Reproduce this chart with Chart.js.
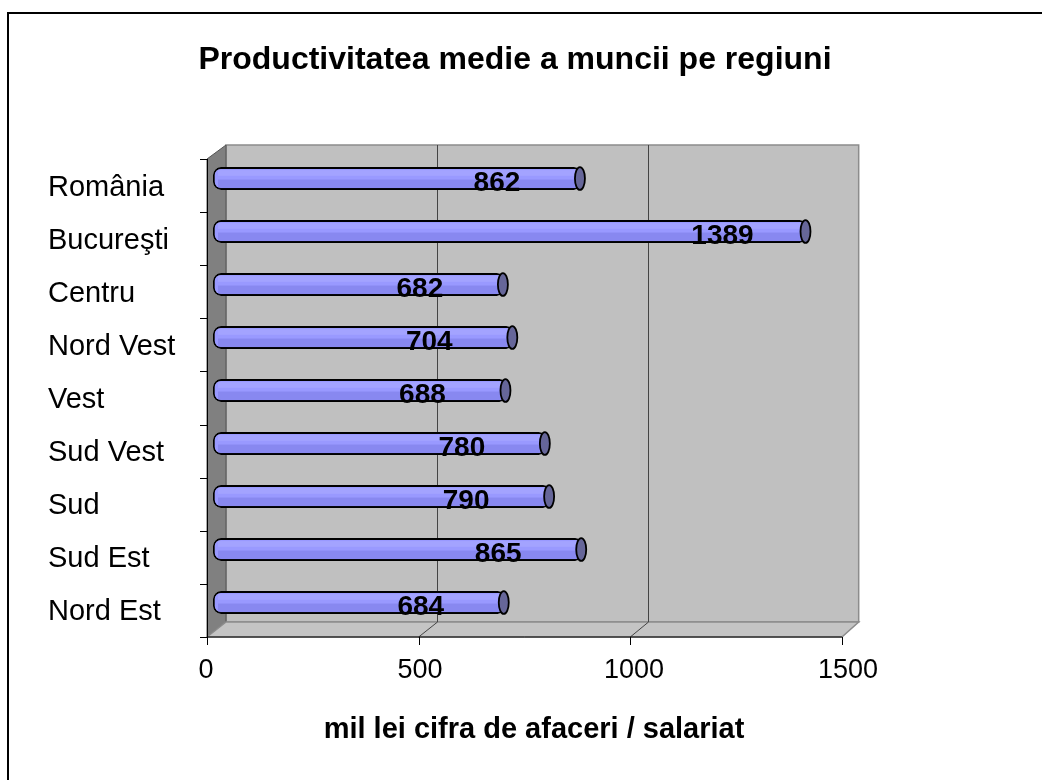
<!DOCTYPE html>
<html>
<head>
<meta charset="utf-8">
<script src="https://cdn.jsdelivr.net/npm/chart.js@4.4.1/dist/chart.umd.min.js"></script>
<style>
  html, body { margin: 0; padding: 0; background: #fff; }
  canvas { display: block; }
</style>
</head>
<body>
<canvas id="myChart" width="1042" height="780"></canvas>
<script>
const chartTitle = 'Productivitatea medie a muncii pe regiuni'
const regions = ['România', 'Bucureşti', 'Centru', 'Nord Vest', 'Vest', 'Sud Vest', 'Sud', 'Sud Est', 'Nord Est']
const productivity = [862, 1389, 682, 704, 688, 780, 790, 865, 684]
const xTicks = [0, 500, 1000, 1500]

Chart.defaults.font.family = "'Liberation Sans', Arial, sans-serif"
Chart.defaults.color = '#000'

// white page, black frame of the embedded chart object, title
const frame = {
    id: 'frame',
    beforeDraw(chart) {
        const ctx = chart.ctx
        ctx.save()
        ctx.fillStyle = '#fff'
        ctx.fillRect(0, 0, chart.width, chart.height)
        ctx.strokeStyle = '#000'
        ctx.lineWidth = 2
        ctx.strokeRect(8, 13, chart.width + 50, chart.height + 50)
        ctx.fillStyle = '#000'
        ctx.font = "bold 32px 'Liberation Sans', Arial, sans-serif"
        ctx.textAlign = 'center'
        ctx.textBaseline = 'middle'
        ctx.fillText(chartTitle, 515, 60)
        ctx.restore()
    }
}

// fake 3d box: back wall, left wall, floor, axes
const box3d = {
    id: 'box3d',
    beforeDatasetsDraw(chart) {
        const ctx = chart.ctx, xs = chart.scales.x, a = chart.chartArea
        const L = a.left
        const front = v => L - 6 + (xs.getPixelForValue(v) - L) * 0.989
        const back = v => L + 13 + (xs.getPixelForValue(v) - L) * 0.9855
        const yTB = a.top - 7, yBB = a.bottom - 7
        const yTF = a.top + 7, yBF = a.bottom + 8
        const max = xTicks[xTicks.length - 1]
        ctx.save()
        // back wall
        ctx.fillStyle = '#c0c0c0'
        ctx.fillRect(back(0), yTB, back(max) - back(0), yBB - yTB)
        ctx.strokeStyle = '#8c8c8c'
        ctx.lineWidth = 1.5
        ctx.strokeRect(back(0), yTB, back(max) - back(0), yBB - yTB)
        // left wall
        ctx.beginPath()
        ctx.moveTo(front(0), yTF)
        ctx.lineTo(back(0), yTB)
        ctx.lineTo(back(0), yBB)
        ctx.lineTo(front(0), yBF)
        ctx.closePath()
        ctx.fillStyle = '#808080'
        ctx.fill()
        ctx.strokeStyle = '#555'
        ctx.lineWidth = 1
        ctx.stroke()
        // floor
        ctx.beginPath()
        ctx.moveTo(front(0), yBF)
        ctx.lineTo(back(0), yBB)
        ctx.lineTo(back(max), yBB)
        ctx.lineTo(front(max), yBF)
        ctx.closePath()
        ctx.fillStyle = '#c4c4c4'
        ctx.fill()
        ctx.strokeStyle = '#8c8c8c'
        ctx.lineWidth = 1.5
        ctx.stroke()
        // grid lines on wall and floor
        ctx.strokeStyle = '#444'
        ctx.lineWidth = 1
        xTicks.slice(1, -1).forEach(v => {
            ctx.beginPath()
            ctx.moveTo(Math.round(back(v)) + 0.5, yTB)
            ctx.lineTo(Math.round(back(v)) + 0.5, yBB)
            ctx.lineTo(front(v), yBF)
            ctx.stroke()
        })
        // axes
        ctx.strokeStyle = '#000'
        ctx.beginPath()
        ctx.moveTo(Math.round(front(0)) + 0.5, yTF)
        ctx.lineTo(Math.round(front(0)) + 0.5, yBF)
        ctx.lineTo(front(max), yBF)
        ctx.stroke()
        const n = regions.length
        for (let i = 0; i <= n; i++) {
            const y = Math.round(yTF + i * (yBF - yTF) / n) + 0.5
            ctx.beginPath()
            ctx.moveTo(front(0) - 7, y)
            ctx.lineTo(front(0), y)
            ctx.stroke()
        }
        xTicks.forEach(v => {
            const x = Math.round(front(v)) + 0.5
            ctx.beginPath()
            ctx.moveTo(x, yBF)
            ctx.lineTo(x, yBF + 8)
            ctx.stroke()
        })
        ctx.restore()
    }
}

// cylinder shading, end caps and value labels
const cylinders = {
    id: 'cylinders',
    afterDatasetsDraw(chart) {
        const ctx = chart.ctx
        const meta = chart.getDatasetMeta(0)
        ctx.save()
        meta.data.forEach((el, i) => {
            const h = el.height
            const top = el.y - h / 2
            const len = el.x - el.base
            ctx.fillStyle = 'rgba(70, 70, 180, 0.20)'
            ctx.fillRect(el.base + 5, el.y + 1, len - 8, h / 2 - 2.5)
            ctx.fillStyle = 'rgba(255, 255, 255, 0.10)'
            ctx.fillRect(el.base + 5, top + 3, len - 8, h / 4)
            ctx.beginPath()
            ctx.ellipse(el.x - 2, el.y, 5, h / 2, 0, 0, Math.PI * 2)
            ctx.fillStyle = '#666699'
            ctx.fill()
            ctx.strokeStyle = '#000'
            ctx.lineWidth = 1.8
            ctx.stroke()
        })
        ctx.fillStyle = '#000'
        ctx.font = "bold 28px 'Liberation Sans', Arial, sans-serif"
        ctx.textAlign = 'center'
        ctx.textBaseline = 'middle'
        meta.data.forEach((el, i) => {
            ctx.fillText(String(productivity[i]), el.x - 85, el.y + 5)
        })
        ctx.restore()
    }
}

let chart = new Chart('myChart', {
    type: 'bar',
    data: {
        labels: regions,
        datasets: [{
            data: productivity,
            backgroundColor: '#9999ff',
            borderColor: '#000',
            borderWidth: 1.8,
            borderRadius: 8,
            borderSkipped: false,
            barPercentage: 0.43,
            categoryPercentage: 1
        }]
    },
    options: {
        indexAxis: 'y',
        responsive: false,
        animation: false,
        layout: {
            padding: { left: 48, right: 187, top: 152, bottom: 33 }
        },
        plugins: {
            legend: { display: false },
            tooltip: { enabled: false },
            title: { display: false }
        },
        scales: {
            x: {
                min: xTicks[0],
                max: xTicks[xTicks.length - 1],
                afterBuildTicks: s => { s.ticks = xTicks.map(v => ({ value: v })) },
                grid: { display: false, drawTicks: false },
                border: { display: false },
                ticks: { font: { size: 27 }, padding: 25, labelOffset: -7, callback: v => String(v) },
                title: {
                    display: true,
                    text: 'mil lei cifra de afaceri / salariat',
                    font: { size: 29, weight: 'bold' },
                    padding: 0
                },
                afterFit: s => { s.height = 118 }
            },
            y: {
                grid: { display: false, drawTicks: false },
                border: { display: false },
                ticks: { font: { size: 29 }, crossAlign: 'far', labelOffset: 9, padding: 0 },
                afterFit: s => { s.width = 165 }
            }
        }
    },
    plugins: [frame, box3d, cylinders]
})
</script>
</body>
</html>
